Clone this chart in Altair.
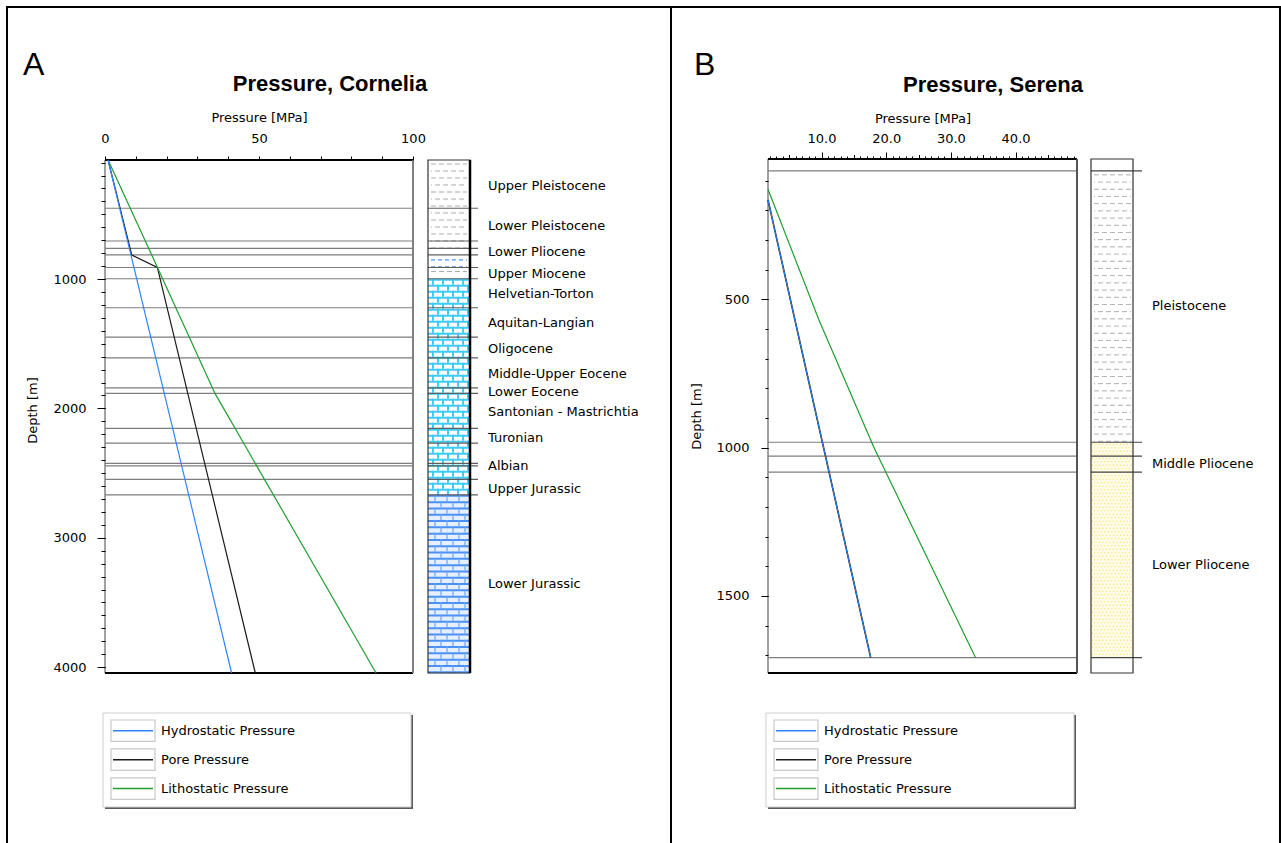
import altair as alt
import numpy as np
import pandas as pd

FONT = "DejaVu Sans"
TFONT = "Liberation Sans"

# ---------------- data ----------------
SERIES = ["Hydrostatic Pressure", "Pore Pressure", "Lithostatic Pressure"]
SERIES_COLORS = ["#2f84ff", "#1a1a1a", "#1f9e2f"]

# Panel A - Cornelia (depth m, pressure MPa)
A_HYDRO_DEPTH = [80, 4045]
A_HYDRO_P = [1.0, 41.1]
A_PORE_DEPTH = [80, 815, 910, 4045]
A_PORE_P = [1.0, 8.7, 17.0, 48.8]
A_LITHO_DEPTH = [80, 909, 1884, 4045]
A_LITHO_P = [1.0, 17.0, 35.7, 88.0]
A_TOPS = [453, 706, 763, 814, 911, 998, 1222, 1449, 1609, 1841, 1884,
          2155, 2268, 2425, 2444, 2549, 2668]
A_FM_NAMES = ["Upper Pleistocene", "Lower Pleistocene", "Lower Pliocene", "Upper Miocene",
              "Helvetian-Torton", "Aquitan-Langian", "Oligocene", "Middle-Upper Eocene",
              "Lower Eocene", "Santonian - Mastrichtian", "Turonian", "Albian",
              "Upper Jurassic", "Lower Jurassic"]
A_FM_LABEL_DEPTH = [281, 590, 791, 959, 1116, 1340, 1541, 1735, 1874, 2029, 2230, 2446, 2624, 3359]
A_LITH_TOP = [80, 814, 911, 998, 2668]
A_LITH_BASE = [814, 911, 998, 2668, 4045]
A_LITH_TYPE = ["shale", "marl", "shale", "limestone", "dolomite"]

# Panel B - Serena
B_HYDRO_DEPTH = [165, 1708]
B_HYDRO_P = [1.72, 17.6]
B_PORE_DEPTH = [165, 1708]
B_PORE_P = [1.72, 17.6]
B_LITHO_DEPTH = [129, 570, 1000, 1708]
B_LITHO_P = [1.72, 9.6, 18.1, 33.8]
B_TOPS = [67, 982, 1029, 1083, 1708]
B_FM_NAMES = ["Pleistocene", "Middle Pliocene", "Lower Pliocene"]
B_FM_LABEL_DEPTH = [524, 1056, 1395]
B_LITH_TOP = [67, 982]
B_LITH_BASE = [982, 1708]
B_LITH_TYPE = ["shale", "sand"]

LITH_TYPES = ["shale", "marl", "limestone", "dolomite", "sand"]
LITH_FILLS = ["#ffffff", "#ffffff", "#ffffff", "#e6effd", "#fffbe4"]

A_X_TICKS = list(range(0, 101, 10))
A_Y_MAJOR = [1000, 2000, 3000, 4000]
A_Y_MINOR = list(range(100, 4001, 100))
B_X_MAJOR = [10, 20, 30, 40]
B_X_MID = [5, 15, 25, 35, 45]
B_X_MINOR = list(range(2, 50))
B_Y_MAJOR = [500, 1000, 1500]
B_Y_MINOR = list(range(100, 1701, 100))

# ---------------- scales ----------------
A_XD = [0, 100]
A_YD = [80, 4045]
B_XD = [1.72, 49.5]
B_YD = [27, 1760]
A_X = alt.Scale(domain=A_XD, range=[105, 413], nice=False, zero=False)
A_Y = alt.Scale(domain=A_YD, range=[160, 673], nice=False, zero=False)
B_X = alt.Scale(domain=B_XD, range=[768, 1077], nice=False, zero=False)
B_Y = alt.Scale(domain=B_YD, range=[159, 673], nice=False, zero=False)
kA = (673 - 160) / (A_YD[1] - A_YD[0])
kB = (673 - 159) / (B_YD[1] - B_YD[0])

SER_COLOR = alt.Scale(domain=SERIES, range=SERIES_COLORS)
LITH_COLOR = alt.Scale(domain=LITH_TYPES, range=LITH_FILLS)
ONE = pd.DataFrame({"k": [0]})


def make_axis(orient, offset, values, tick, labels=False, fmt=None, pad=0,
              title=None, tx=0, ty=0, label_expr=None):
    kw = dict(orient=orient, offset=offset, values=values, tickSize=tick,
              tickColor="#000000", tickWidth=1, ticks=True, domain=False,
              grid=False, labels=labels, zindex=3)
    if labels:
        kw.update(labelFont=FONT, labelFontSize=13, labelColor="#000000",
                  labelPadding=pad, labelFlush=False, labelOverlap=False,
                  labelBaseline="middle",
                  labelAlign="center" if orient == "top" else "right")
        if fmt:
            kw["format"] = fmt
        if label_expr:
            kw["labelExpr"] = label_expr
    if title:
        kw.update(title=title, titleFont=FONT, titleFontSize=13,
                  titleFontWeight="normal", titleColor="#000000",
                  titleX=tx, titleY=ty, titleAlign="center",
                  titleBaseline="middle",
                  titleAngle=0 if orient == "top" else 270)
    else:
        kw["title"] = None
    return alt.Axis(**kw)


def line_layer(depths, ps, name, xs, ys, width=1.2, xaxis=None, yaxis=None):
    df = pd.DataFrame({"depth": depths, "p": ps, "series": name,
                       "idx": list(range(len(depths)))})
    return alt.Chart(df).mark_line(strokeWidth=width).encode(
        x=alt.X("p:Q", scale=xs, axis=xaxis),
        y=alt.Y("depth:Q", scale=ys, axis=yaxis),
        color=alt.Color("series:N", scale=SER_COLOR, legend=None),
        order=alt.Order("idx:Q"))


def plot_rules(tops, xs, ys, xd, yaxis=None, xaxis=None, color="#7d7d7d"):
    df = pd.DataFrame({"d": tops})
    return alt.Chart(df).mark_rule(color=color, strokeWidth=1.2).encode(
        x=alt.XDatum(xd[0], type="quantitative", scale=xs, axis=xaxis),
        x2=alt.X2Datum(xd[1]),
        y=alt.Y("d:Q", scale=ys, axis=yaxis))


def box(xs, ys, xd, yd, xaxis=None, yaxis=None, stroke="#444444", width=1.0):
    return alt.Chart(ONE).mark_rect(fill="#ffffff", fillOpacity=0, stroke=stroke,
                                    strokeWidth=width).encode(
        x=alt.XDatum(xd[0], type="quantitative", scale=xs, axis=xaxis),
        x2=alt.X2Datum(xd[1]),
        y=alt.YDatum(yd[0], type="quantitative", scale=ys, axis=yaxis),
        y2=alt.Y2Datum(yd[1]))


def hedge(xs, ys, xd, yv, color, width):
    return alt.Chart(ONE).mark_rule(color=color, strokeWidth=width).encode(
        x=alt.XDatum(xd[0], type="quantitative", scale=xs, axis=None),
        x2=alt.X2Datum(xd[1]),
        y=alt.YDatum(yv, type="quantitative", scale=ys, axis=None))


def vedge(xs, ys, xv, yd, color, width):
    return alt.Chart(ONE).mark_rule(color=color, strokeWidth=width).encode(
        x=alt.XDatum(xv, type="quantitative", scale=xs, axis=None),
        y=alt.YDatum(yd[0], type="quantitative", scale=ys, axis=None),
        y2=alt.Y2Datum(yd[1]))


def col_fill(tops, bases, types, ys, x0, x1):
    df = pd.DataFrame({"top": tops, "base": bases, "type": types})
    return alt.Chart(df).mark_rect().encode(
        x=alt.value(x0), x2=alt.value(x1),
        y=alt.Y("top:Q", scale=ys, axis=None), y2="base:Q",
        color=alt.Color("type:N", scale=LITH_COLOR, legend=None))


def hrows(depths, ys, x0, x1, color, width, dash=None, doff=0):
    mk = dict(color=color, strokeWidth=width)
    if dash:
        mk["strokeDash"] = dash
        mk["strokeDashOffset"] = doff
    df = pd.DataFrame({"d": depths})
    return alt.Chart(df).mark_rule(**mk).encode(
        x=alt.value(x0), x2=alt.value(x1), y=alt.Y("d:Q", scale=ys, axis=None))


def vjoint(x, top, base, ys, color, width, dash, doff):
    return alt.Chart(ONE).mark_rule(color=color, strokeWidth=width, strokeDash=dash,
                                    strokeDashOffset=doff).encode(
        x=alt.value(x),
        y=alt.YDatum(top, type="quantitative", scale=ys, axis=None),
        y2=alt.Y2Datum(base))


def rows(top, base, step_px, k, start_px):
    return [float(v) for v in np.arange(top + start_px / k, base - 0.5 / k, step_px / k)]


def col_rules(tops, ys, x0, x1, color="#5e5e5e"):
    df = pd.DataFrame({"d": tops})
    return alt.Chart(df).mark_rule(color=color, strokeWidth=1.2).encode(
        x=alt.value(x0), x2=alt.value(x1), y=alt.Y("d:Q", scale=ys, axis=None))


def col_outline(ys, yd, x0, x1, stroke="#333333"):
    return alt.Chart(ONE).mark_rect(fillOpacity=0, stroke=stroke, strokeWidth=1.2).encode(
        x=alt.value(x0), x2=alt.value(x1),
        y=alt.YDatum(yd[0], type="quantitative", scale=ys, axis=None),
        y2=alt.Y2Datum(yd[1]))


def fm_labels(names, depths, ys, x0):
    df = pd.DataFrame({"name": names, "d": depths})
    return alt.Chart(df).mark_text(align="left", baseline="middle", font=FONT, fontSize=13,
                                   color="#000000", limit=158, ellipsis="\u200b").encode(
        x=alt.value(x0), y=alt.Y("d:Q", scale=ys, axis=None), text="name:N")


def text_at(txt, x, y, **mk):
    return alt.Chart(pd.DataFrame({"t": [txt]})).mark_text(**mk).encode(
        x=alt.value(x), y=alt.value(y), text="t:N")


LEG_Y = alt.Scale(type="band", domain=SERIES, range=[720, 799.3], paddingInner=0.26,
                  paddingOuter=0)


def legend(x0):
    base = pd.DataFrame({"series": SERIES})
    shadow = alt.Chart(ONE).mark_rect(fill="#5a5a5a").encode(
        x=alt.value(x0 + 2), x2=alt.value(x0 + 310), y=alt.value(715), y2=alt.value(809))
    frame = alt.Chart(ONE).mark_rect(fill="#ffffff", stroke="#cfcfcf", strokeWidth=1).encode(
        x=alt.value(x0), x2=alt.value(x0 + 308), y=alt.value(713), y2=alt.value(807))
    sw = alt.Chart(base).mark_rect(fill="#ffffff", stroke="#c8c8c8", strokeWidth=1.2).encode(
        x=alt.value(x0 + 8), x2=alt.value(x0 + 52),
        y=alt.Y("series:N", scale=LEG_Y, axis=None))
    ln = alt.Chart(base).mark_rule(strokeWidth=1.5).encode(
        x=alt.value(x0 + 10), x2=alt.value(x0 + 50),
        y=alt.Y("series:N", scale=LEG_Y, axis=None),
        color=alt.Color("series:N", scale=SER_COLOR, legend=None))
    tx = alt.Chart(base).mark_text(align="left", baseline="middle", font=FONT, fontSize=13,
                                   color="#000000").encode(
        x=alt.value(x0 + 58), y=alt.Y("series:N", scale=LEG_Y, axis=None), text="series:N")
    return [shadow, frame, sw, ln, tx]


layers = []

# ================= Panel A =================
layers.append(col_fill(A_LITH_TOP, A_LITH_BASE, A_LITH_TYPE, A_Y, 428, 470))
# shale texture
for (t, b) in [(A_LITH_TOP[0], A_LITH_BASE[0]), (A_LITH_TOP[2], A_LITH_BASE[2])]:
    r = rows(t, b, 7, kA, 4)
    layers.append(hrows(r[0::2], A_Y, 431, 467, "#acacac", 1, [5, 3], 0))
    if r[1::2]:
        layers.append(hrows(r[1::2], A_Y, 431, 467, "#acacac", 1, [5, 3], 4))
# marl texture
layers.append(hrows(rows(A_LITH_TOP[1], A_LITH_BASE[1], 7, kA, 5), A_Y, 431, 467,
                    "#4f95f5", 1.2, [4, 3], 0))
# limestone bricks (cyan mortar on white)
lt, lb = A_LITH_TOP[3], A_LITH_BASE[3]
layers.append(hrows(rows(lt, lb, 6, kA, 1), A_Y, 428, 470, "#3fcbf4", 2))
for xj in [433, 443, 453, 463]:
    layers.append(vjoint(xj, lt, lb, A_Y, "#3fcbf4", 2, [6, 6], 0))
for xj in [438, 448, 458, 468]:
    layers.append(vjoint(xj, lt, lb, A_Y, "#3fcbf4", 2, [6, 6], 6))
# dolomite
dt, db = A_LITH_TOP[4], A_LITH_BASE[4]
layers.append(hrows(rows(dt, db, 6.3, kA, 1), A_Y, 428, 470, "#4a90f5", 2))
for xj in [435, 447, 459]:
    layers.append(vjoint(xj, dt, db, A_Y, "#6aa5f8", 1.2, [6.3, 6.3], 0))
for xj in [441, 453, 465]:
    layers.append(vjoint(xj, dt, db, A_Y, "#6aa5f8", 1.2, [6.3, 6.3], 6.3))
layers.append(col_rules(A_TOPS, A_Y, 428, 478))
layers.append(col_outline(A_Y, A_YD, 428, 470))
layers.append(alt.Chart(ONE).mark_rule(color="#000000", strokeWidth=2.5).encode(
    x=alt.value(470), y=alt.YDatum(A_YD[0], type="quantitative", scale=A_Y, axis=None),
    y2=alt.Y2Datum(A_YD[1])))

# plot box with major axes
layers.append(box(A_X, A_Y, A_XD, A_YD,
                  xaxis=make_axis("top", -160, A_X_TICKS, 4, labels=True, fmt="d", pad=18,
                                  title="Pressure [MPa]", tx=259, ty=-42.5,
                                  label_expr="datum.value % 50 === 0 ? datum.label : ''"),
                  yaxis=make_axis("left", -105, A_Y_MAJOR, 8, labels=True, fmt="d", pad=11,
                                  title="Depth [m]", tx=-73, ty=410)))
layers.append(plot_rules(A_TOPS, A_X, A_Y, A_XD,
                         yaxis=make_axis("left", -105, A_Y_MINOR, 4)))
layers.append(hedge(A_X, A_Y, A_XD, A_YD[0], "#000000", 2))
layers.append(hedge(A_X, A_Y, A_XD, A_YD[1], "#000000", 2))
layers.append(vedge(A_X, A_Y, A_XD[1], A_YD, "#808080", 2))
layers.append(line_layer(A_PORE_DEPTH, A_PORE_P, SERIES[1], A_X, A_Y))
layers.append(line_layer(A_LITHO_DEPTH, A_LITHO_P, SERIES[2], A_X, A_Y))
layers.append(line_layer(A_HYDRO_DEPTH, A_HYDRO_P, SERIES[0], A_X, A_Y))
layers.append(fm_labels(A_FM_NAMES, A_FM_LABEL_DEPTH, A_Y, 488))
layers += legend(103)

# ================= Panel B =================
layers.append(col_fill(B_LITH_TOP, B_LITH_BASE, B_LITH_TYPE, B_Y, 1091, 1133))
r = rows(B_LITH_TOP[0], B_LITH_BASE[0], 7.2, kB, 4)
layers.append(hrows(r[0::2], B_Y, 1094, 1131, "#b0b0b0", 1, [5, 3], 0))
layers.append(hrows(r[1::2], B_Y, 1094, 1131, "#b0b0b0", 1, [5, 3], 4))
r = rows(B_LITH_TOP[1], B_LITH_BASE[1], 3.5, kB, 2)
layers.append(hrows(r[0::2], B_Y, 1092, 1132, "#f2d650", 1, [1, 2.5], 0))
layers.append(hrows(r[1::2], B_Y, 1092, 1132, "#f2d650", 1, [1, 2.5], 1.7))
layers.append(col_rules(B_TOPS, B_Y, 1091, 1142, color="#444444"))
layers.append(col_outline(B_Y, B_YD, 1091, 1133))

layers.append(box(B_X, B_Y, B_XD, B_YD,
                  xaxis=make_axis("top", -159, B_X_MAJOR, 7, labels=True, fmt=".1f", pad=14,
                                  title="Pressure [MPa]", tx=922.5, ty=-41),
                  yaxis=make_axis("left", -768, B_Y_MAJOR, 7, labels=True, fmt="d", pad=12,
                                  title="Depth [m]", tx=-72, ty=416)))
layers.append(plot_rules(B_TOPS, B_X, B_Y, B_XD,
                         yaxis=make_axis("left", -768, B_Y_MINOR, 3),
                         xaxis=make_axis("top", -159, B_X_MID, 4.5)))
layers.append(hedge(B_X, B_Y, B_XD, B_YD[0], "#000000", 2))
layers.append(hedge(B_X, B_Y, B_XD, B_YD[1], "#000000", 2))
layers.append(vedge(B_X, B_Y, B_XD[1], B_YD, "#555555", 2))
layers.append(line_layer(B_PORE_DEPTH, B_PORE_P, SERIES[1], B_X, B_Y, width=1.6,
                         xaxis=make_axis("top", -159, B_X_MINOR, 3)))
layers.append(line_layer(B_LITHO_DEPTH, B_LITHO_P, SERIES[2], B_X, B_Y))
layers.append(line_layer(B_HYDRO_DEPTH, B_HYDRO_P, SERIES[0], B_X, B_Y, width=1.0))
layers.append(fm_labels(B_FM_NAMES, B_FM_LABEL_DEPTH, B_Y, 1152))
layers += legend(766)

# ================= titles & frame =================
layers.append(text_at("A", 23, 75, align="left", baseline="alphabetic", font=TFONT,
                      fontSize=32, color="#000000"))
layers.append(text_at("B", 694, 75, align="left", baseline="alphabetic", font=TFONT,
                      fontSize=32, color="#000000"))
layers.append(text_at("Pressure, Cornelia", 330, 91, align="center", baseline="alphabetic",
                      font=TFONT, fontSize=22, fontWeight="bold", color="#000000"))
layers.append(text_at("Pressure, Serena", 993, 92, align="center", baseline="alphabetic",
                      font=TFONT, fontSize=22, fontWeight="bold", color="#000000"))
for (xa, xb, ya, yb) in [(6, 1281, 7, None), (7, None, 6, 843), (671, None, 6, 843),
                         (1280, None, 6, 843)]:
    enc = dict(x=alt.value(xa), y=alt.value(ya))
    if xb is not None:
        enc["x2"] = alt.value(xb)
    if yb is not None:
        enc["y2"] = alt.value(yb)
    layers.append(alt.Chart(ONE).mark_rule(color="#000000", strokeWidth=2).encode(**enc))

chart = alt.layer(*layers).resolve_scale(
    x="independent", y="independent", color="independent"
).properties(
    width=1281, height=843, padding=0,
    autosize=alt.AutoSizeParams(type="none"), background="#ffffff"
).configure_view(stroke=None)

chart.save("out.html", embed_options={"renderer": "svg", "actions": False})
